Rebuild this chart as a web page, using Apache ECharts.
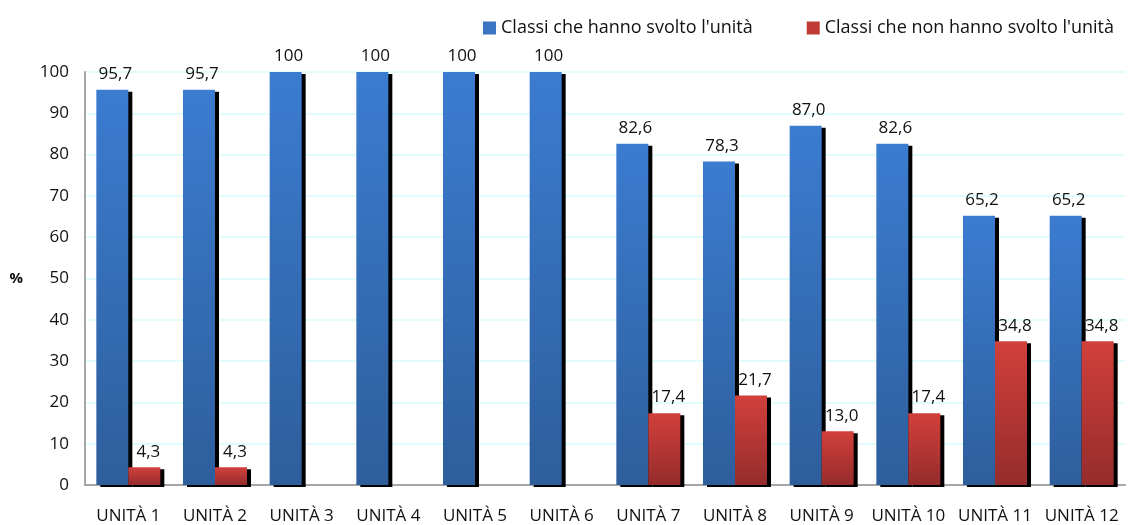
<!DOCTYPE html>
<html>
<head>
<meta charset="utf-8">
<script src="https://cdn.jsdelivr.net/npm/echarts@6/dist/echarts.min.js"></script>
<style>
  html, body { margin: 0; padding: 0; background: #fff; }
  #main { width: 1131px; height: 525px; }
</style>
</head>
<body>
<div id="main"></div>
<script>
var categorie = ['UNITÀ 1','UNITÀ 2','UNITÀ 3','UNITÀ 4','UNITÀ 5','UNITÀ 6','UNITÀ 7','UNITÀ 8','UNITÀ 9','UNITÀ 10','UNITÀ 11','UNITÀ 12'];
var svolto = [95.7, 95.7, 100, 100, 100, 100, 82.6, 78.3, 87.0, 82.6, 65.2, 65.2];
var nonSvolto = [4.3, 4.3, 0, 0, 0, 0, 17.4, 21.7, 13.0, 17.4, 34.8, 34.8];

var font = '"Open Sans", "Noto Sans", sans-serif';

// etichette: virgola decimale, niente per gli zeri
var fmt = function(p){
    if(!p.value) return '';
    if(p.value === 100) return '100';
    return p.value.toFixed(1).replace('.', ',');
};

var grad = function(top, bottom){
    return new echarts.graphic.LinearGradient(0, 0, 0, 1, [
        {offset: 0, color: top},
        {offset: 1, color: bottom}
    ]);
};

var chart = echarts.init(document.getElementById('main'));
chart.setOption({
    animation: false,
    textStyle: {fontFamily: font},
    legend: {
        top: 14,
        left: 478,
        icon: 'rect',
        itemWidth: 13,
        itemHeight: 13,
        itemGap: 54,
        textStyle: {fontSize: 18, color: '#111', fontFamily: font},
        data: [
            {name: "Classi che hanno svolto l'unità", itemStyle: {color: '#3a74c2'}},
            {name: "Classi che non hanno svolto l'unità", itemStyle: {color: '#c03a36'}}
        ]
    },
    grid: {left: 85, right: 6, top: 72, bottom: 40},
    xAxis: {
        type: 'category',
        data: categorie,
        axisLine: {lineStyle: {color: '#a6a6a6', width: 2}},
        axisTick: {show: false},
        axisLabel: {interval: 0, color: '#111', fontSize: 17, margin: 23, fontFamily: font}
    },
    yAxis: {
        type: 'value',
        min: 0,
        max: 100,
        interval: 10,
        name: '%',
        nameLocation: 'middle',
        nameRotate: 0,
        nameGap: 62,
        nameTextStyle: {fontSize: 15, fontWeight: 'bold', color: '#111', fontFamily: font},
        axisLine: {show: true, lineStyle: {color: '#a6a6a6', width: 2}},
        axisTick: {show: false},
        axisLabel: {color: '#111', fontSize: 17, margin: 16, fontFamily: font},
        splitLine: {lineStyle: {color: '#d6fbfb', width: 1.5}}
    },
    series: [
        {
            name: "Classi che hanno svolto l'unità",
            type: 'bar',
            data: svolto,
            barWidth: 32,
            barGap: '0%',
            itemStyle: {
                color: grad('#3b7cd0', '#2e5e9c'),
                shadowColor: '#000',
                shadowOffsetX: 4,
                shadowOffsetY: 2,
                shadowBlur: 0
            },
            label: {show: true, position: 'top', distance: 7, offset: [3, 0], formatter: fmt, fontSize: 17, color: '#111', fontFamily: font}
        },
        {
            name: "Classi che non hanno svolto l'unità",
            type: 'bar',
            data: nonSvolto,
            barWidth: 32,
            itemStyle: {
                color: grad('#d2403b', '#952c2c'),
                shadowColor: '#000',
                shadowOffsetX: 4,
                shadowOffsetY: 2,
                shadowBlur: 0
            },
            label: {show: true, position: 'top', distance: 7, offset: [4, 0], formatter: fmt, fontSize: 17, color: '#111', fontFamily: font}
        }
    ]
});
</script>
</body>
</html>
